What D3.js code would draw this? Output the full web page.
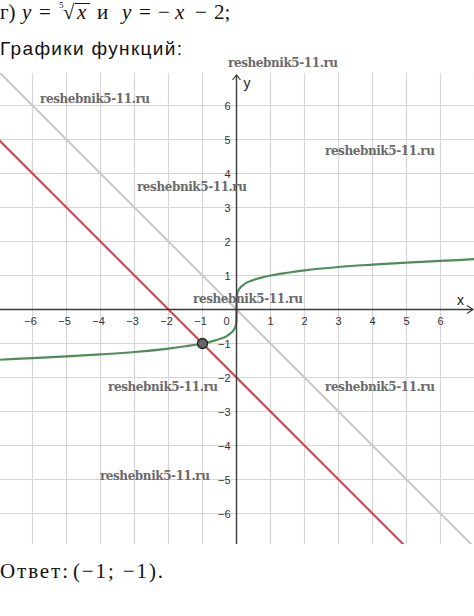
<!DOCTYPE html>
<html>
<head>
<meta charset="utf-8">
<script src="https://cdn.jsdelivr.net/npm/d3@7"></script>
<style>
	body { margin: 0; background: #fff; }
</style>
</head>
<body>
<script>
let width = 474;
let height = 616;

// grid / tick values
let xTicks = [-6, -5, -4, -3, -2, -1, 1, 2, 3, 4, 5, 6];
let yTicks = [-6, -5, -4, -3, -2, -1, 1, 2, 3, 4, 5, 6];
let gridX = [-6, -5, -4, -3, -2, -1, 1, 2, 3, 4, 5, 6, 7];
let gridY = [-6, -5, -4, -3, -2, -1, 1, 2, 3, 4, 5, 6];

// y = fifth root of x
let rootCurve = [
	[-7, -1.48], [-6, -1.43], [-5, -1.38], [-4, -1.32], [-3, -1.25], [-2, -1.15],
	[-1.5, -1.08], [-1, -1], [-0.7, -0.93], [-0.5, -0.87], [-0.3, -0.79], [-0.2, -0.72],
	[-0.1, -0.63], [-0.05, -0.55], [-0.02, -0.46], [-0.005, -0.35], [-0.001, -0.25],
	[0, 0],
	[0.001, 0.25], [0.005, 0.35], [0.02, 0.46], [0.05, 0.55], [0.1, 0.63], [0.2, 0.72],
	[0.3, 0.79], [0.5, 0.87], [0.7, 0.93], [1, 1], [1.5, 1.08], [2, 1.15], [3, 1.25],
	[4, 1.32], [5, 1.38], [6, 1.43], [7, 1.48]
];
// y = -x - 2
let redLine = [[-7, 5], [5, -7]];
// y = -x (helper)
let grayLine = [[-7, 7], [7, -7]];
// intersection
let answerPoint = [[-1, -1]];

let watermark = 'reshebnik5-11.ru';
let watermarkSpots = [
	[1.37, 7.25], [-4.16, 6.19], [4.22, 4.66], [-1.31, 3.6],
	[0.34, 0.31], [-2.16, -2.28], [4.22, -2.28], [-2.4, -4.9]
];

let svg = d3.select('body').append('svg')
	.attr('width', width)
	.attr('height', height)
	.style('background-color', '#fff');

let x = d3.scaleLinear().domain([-7, 7]).range([236.5 - 238, 236.5 + 238]);
let y = d3.scaleLinear().domain([-7, 7]).range([309.5 + 238, 309.5 - 238]);

let plotTop = 73, plotBottom = 544, plotLeft = 0, plotRight = 474;

svg.append('defs').append('clipPath')
	.attr('id', 'plot')
	.append('rect')
	.attr('x', plotLeft).attr('y', plotTop)
	.attr('width', plotRight - plotLeft).attr('height', plotBottom - plotTop);

// --- heading text
let serif = '"Liberation Serif", "DejaVu Serif", serif';

let head = svg.append('text')
	.attr('y', 19)
	.style('font-family', serif)
	.style('font-size', '21px')
	.style('fill', '#111');
head.append('tspan').attr('x', 0).text('г)');
head.append('tspan').attr('x', 22).style('font-style', 'italic').text('y');
head.append('tspan').attr('x', 39).text('=');
head.append('tspan').attr('x', 63).text('√');
head.append('tspan').attr('x', 77).style('font-style', 'italic').text('x');
head.append('tspan').attr('x', 97).text('и');
head.append('tspan').attr('x', 122).style('font-style', 'italic').text('y');
head.append('tspan').attr('x', 139).text('=');
head.append('tspan').attr('x', 158).text('−');
head.append('tspan').attr('x', 175).style('font-style', 'italic').text('x');
head.append('tspan').attr('x', 195).text('−');
head.append('tspan').attr('x', 214).text('2;');

// root index and bar
svg.append('text')
	.attr('x', 59).attr('y', 8)
	.style('font-family', serif)
	.style('font-size', '9px')
	.style('fill', '#111')
	.text('5');
svg.append('line')
	.attr('x1', 75).attr('x2', 90)
	.attr('y1', 3.5).attr('y2', 3.5)
	.style('stroke', '#111').style('stroke-width', 1);

svg.append('text')
	.attr('x', 0)
	.attr('y', 55)
	.attr('textLength', 182)
	.style('font-family', '"Liberation Sans", Arial, sans-serif')
	.style('font-size', '19px')
	.style('fill', '#111')
	.text('Графики функций:');

let answer = svg.append('text')
	.attr('y', 578)
	.style('font-family', serif)
	.style('font-size', '21px')
	.style('fill', '#111');
answer.append('tspan').attr('x', 0).attr('textLength', 68).text('Ответ:');
answer.append('tspan').attr('x', 73).attr('textLength', 90).text('(−1; −1).');

// --- grid
let plot = svg.append('g').attr('clip-path', 'url(#plot)');

plot.selectAll('.gx').data(gridX).enter().append('line')
	.attr('class', 'gx')
	.attr('x1', d => x(d)).attr('x2', d => x(d))
	.attr('y1', plotTop).attr('y2', plotBottom)
	.style('stroke', '#d6d6d6')
	.style('stroke-width', 1.2);

plot.selectAll('.gy').data(gridY).enter().append('line')
	.attr('class', 'gy')
	.attr('y1', d => y(d)).attr('y2', d => y(d))
	.attr('x1', plotLeft).attr('x2', plotRight)
	.style('stroke', '#d6d6d6')
	.style('stroke-width', 1.2);

// --- axes
let axisColor = '#3a3a3a';
svg.append('line')
	.attr('x1', plotLeft).attr('x2', plotRight - 1)
	.attr('y1', y(0)).attr('y2', y(0))
	.style('stroke', axisColor).style('stroke-width', 1.4);
svg.append('line')
	.attr('x1', x(0)).attr('x2', x(0))
	.attr('y1', plotBottom).attr('y2', plotTop + 2)
	.style('stroke', axisColor).style('stroke-width', 1.4);

// arrow heads
svg.append('path')
	.attr('d', 'M' + (x(0) - 4) + ',' + (plotTop + 7) + 'L' + x(0) + ',' + (plotTop + 2) + 'L' + (x(0) + 4) + ',' + (plotTop + 7))
	.style('fill', 'none').style('stroke', axisColor).style('stroke-width', 1.2);
svg.append('path')
	.attr('d', 'M' + (plotRight - 7) + ',' + (y(0) - 4) + 'L' + (plotRight - 1) + ',' + y(0) + 'L' + (plotRight - 7) + ',' + (y(0) + 4))
	.style('fill', 'none').style('stroke', axisColor).style('stroke-width', 1.2);

let sans = '"Liberation Sans", Arial, sans-serif';
svg.append('text')
	.attr('x', x(0) + 7).attr('y', plotTop + 15)
	.style('font-family', sans).style('font-size', '14px').style('fill', '#222')
	.text('y');
svg.append('text')
	.attr('x', plotRight - 17).attr('y', y(0) - 5)
	.style('font-family', sans).style('font-size', '14px').style('fill', '#222')
	.text('x');

// tick labels
svg.selectAll('.tx').data(xTicks).enter().append('text')
	.attr('class', 'tx')
	.attr('x', d => x(d) + (d < 0 ? -2 : 0))
	.attr('y', y(0) + 15)
	.attr('text-anchor', 'middle')
	.style('font-family', sans).style('font-size', '11px').style('fill', '#333')
	.text(d => d < 0 ? '−' + Math.abs(d) : d);

svg.selectAll('.ty').data(yTicks).enter().append('text')
	.attr('class', 'ty')
	.attr('x', x(0) - 6)
	.attr('y', d => y(d) + 4)
	.attr('text-anchor', 'end')
	.style('font-family', sans).style('font-size', '11px').style('fill', '#333')
	.text(d => d < 0 ? '−' + Math.abs(d) : d);

svg.append('text')
	.attr('x', x(0) - 7).attr('y', y(0) + 15)
	.attr('text-anchor', 'end')
	.style('font-family', sans).style('font-size', '11px').style('fill', '#333')
	.text('0');

// --- graphs
let line = d3.line().x(d => x(d[0])).y(d => y(d[1]));

plot.append('path')
	.datum(grayLine)
	.attr('d', line)
	.style('fill', 'none')
	.style('stroke', '#c9c9c9')
	.style('stroke-width', 2);

plot.append('path')
	.datum(redLine)
	.attr('d', line)
	.style('fill', 'none')
	.style('stroke', '#c9464e')
	.style('stroke-width', 2);

plot.append('path')
	.datum(rootCurve)
	.attr('d', line.curve(d3.curveMonotoneX))
	.style('fill', 'none')
	.style('stroke', '#4e8d57')
	.style('stroke-width', 2.2);

plot.selectAll('.pt').data(answerPoint).enter().append('circle')
	.attr('class', 'pt')
	.attr('cx', d => x(d[0]))
	.attr('cy', d => y(d[1]))
	.attr('r', 5)
	.style('fill', '#666')
	.style('stroke', '#222')
	.style('stroke-width', 1.3);

// --- watermarks
svg.selectAll('.wm').data(watermarkSpots).enter().append('text')
	.attr('class', 'wm')
	.attr('x', d => x(d[0]))
	.attr('y', d => y(d[1]) + 4)
	.attr('text-anchor', 'middle')
	.attr('textLength', 110)
	.style('font-family', '"DejaVu Serif", serif')
	.style('font-weight', 'bold')
	.style('font-size', '12px')
	.style('fill', '#6b6b6b')
	.text(watermark);
</script>
</body>
</html>
